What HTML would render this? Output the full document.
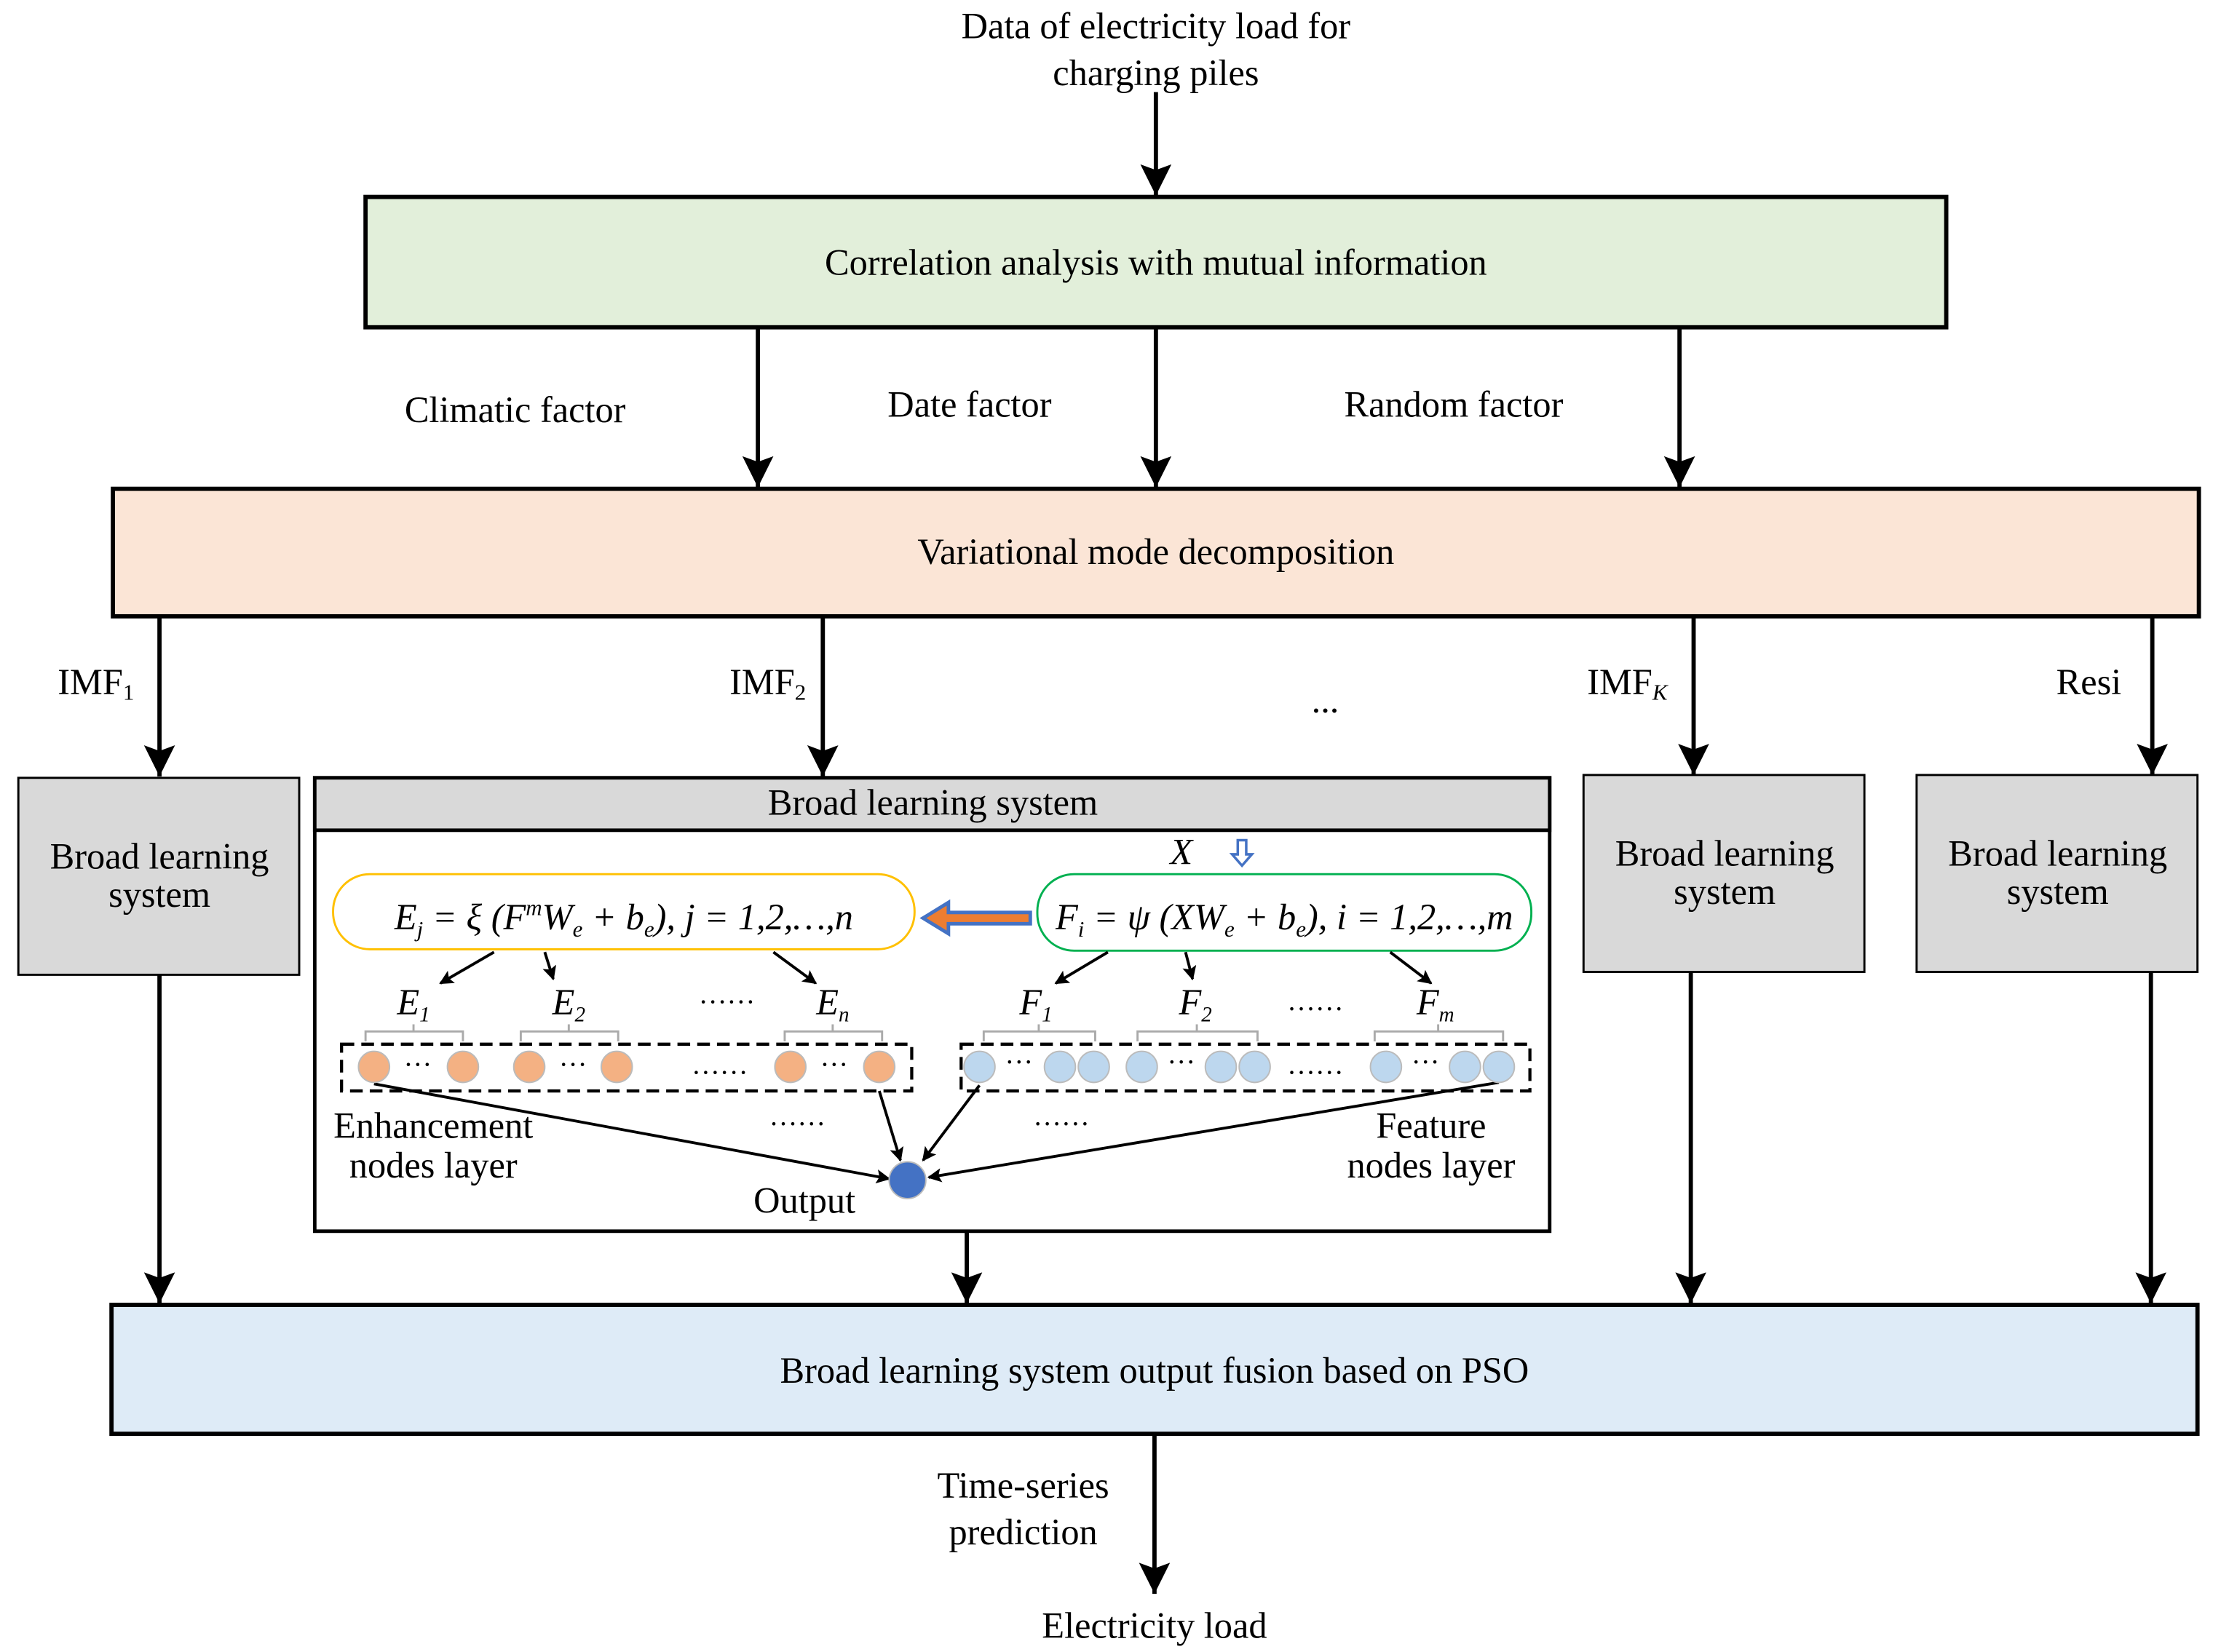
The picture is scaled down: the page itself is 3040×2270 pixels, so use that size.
<!DOCTYPE html>
<html><head><meta charset="utf-8"><style>
html,body{margin:0;padding:0;background:#fff;}
svg{display:block}
text{font-family:"Liberation Serif",serif;fill:#000}
</style></head><body>
<svg width="3040" height="2270" viewBox="0 0 1568 1166" preserveAspectRatio="none" xmlns="http://www.w3.org/2000/svg">
<defs>
<marker id="a" markerWidth="10" markerHeight="10" refX="9" refY="5" orient="auto" markerUnits="userSpaceOnUse">
<path d="M0,0 L10,5 L0,10 L2,5 Z" fill="#000"/></marker>
<marker id="b" markerWidth="24" markerHeight="22" refX="22" refY="11" orient="auto" markerUnits="userSpaceOnUse">
<path d="M0,0 L22,11 L0,22 L4,11 Z" fill="#000"/></marker>
</defs>
<g font-size="26" text-anchor="middle">
<text x="819" y="27">Data of electricity load for</text>
<text x="819" y="60">charging piles</text>
</g>
<g stroke="#000" stroke-width="3" marker-end="url(#b)">
<line x1="819" y1="65" x2="819" y2="138"/>
<line x1="537" y1="231" x2="537" y2="344"/>
<line x1="819" y1="231" x2="819" y2="344"/>
<line x1="1190" y1="231" x2="1190" y2="344"/>
<line x1="113" y1="435" x2="113" y2="548"/>
<line x1="583" y1="435" x2="583" y2="548"/>
<line x1="1200" y1="435" x2="1200" y2="547"/>
<line x1="1525" y1="435" x2="1525" y2="547"/>
<line x1="113" y1="688" x2="113" y2="920"/>
<line x1="685" y1="869" x2="685" y2="920"/>
<line x1="1198" y1="686" x2="1198" y2="920"/>
<line x1="1524" y1="686" x2="1524" y2="920"/>
<line x1="818" y1="1012" x2="818" y2="1125"/>
</g>
<rect x="259" y="139" width="1120" height="92" fill="#e2efda" stroke="#000" stroke-width="3"/>
<rect x="80" y="345" width="1478" height="90" fill="#fbe5d6" stroke="#000" stroke-width="3"/>
<rect x="13" y="549" width="199" height="139" fill="#d9d9d9" stroke="#000" stroke-width="1.5"/>
<rect x="1122" y="547" width="199" height="139" fill="#d9d9d9" stroke="#000" stroke-width="1.5"/>
<rect x="1358" y="547" width="199" height="139" fill="#d9d9d9" stroke="#000" stroke-width="1.5"/>
<rect x="223" y="549" width="875" height="320" fill="#fff" stroke="#000" stroke-width="2.5"/>
<rect x="223" y="549" width="875" height="37" fill="#d9d9d9" stroke="#000" stroke-width="2.5"/>
<rect x="79" y="921" width="1478" height="91" fill="#deebf7" stroke="#000" stroke-width="3"/>
<g font-size="26" text-anchor="middle">
<text x="819" y="194">Correlation analysis with  mutual information</text>
<text x="365" y="298">Climatic factor</text>
<text x="687" y="294">Date factor</text>
<text x="1030" y="294">Random factor</text>
<text x="819" y="398">Variational mode decomposition</text>
<text x="68" y="490">IMF<tspan font-size="16" dy="4">1</tspan></text>
<text x="544" y="490">IMF<tspan font-size="16" dy="4">2</tspan></text>
<text x="939" y="503">...</text>
<text x="1153" y="490">IMF<tspan font-size="16" dy="4" font-style="italic">K</tspan></text>
<text x="1480" y="490">Resi</text>
<text x="113" y="613">Broad learning</text>
<text x="113" y="640">system</text>
<text x="1222" y="611">Broad learning</text>
<text x="1222" y="638">system</text>
<text x="1458" y="611">Broad learning</text>
<text x="1458" y="638">system</text>
<text x="661" y="575">Broad learning system</text>
<text x="818" y="976">Broad learning system output fusion based on PSO</text>
<text x="725" y="1057">Time-series</text>
<text x="725" y="1090">prediction</text>
<text x="818" y="1156">Electricity load</text>
<text x="307" y="803">Enhancement</text>
<text x="307" y="831">nodes layer</text>
<text x="1014" y="803">Feature</text>
<text x="1014" y="831">nodes layer</text>
<text x="570" y="856">Output</text>
</g>
<rect x="236" y="617" width="412" height="53" rx="26" fill="#fff" stroke="#ffc000" stroke-width="1.5"/>
<rect x="735" y="617" width="350" height="54" rx="26" fill="#fff" stroke="#00b050" stroke-width="1.5"/>
<g font-size="26" font-style="italic" text-anchor="middle">
<text x="442" y="656">E<tspan font-size="16" dy="5">j</tspan><tspan dy="-5"> = ξ (F</tspan><tspan font-size="16" dy="-10">m</tspan><tspan dy="10">W</tspan><tspan font-size="16" dy="5">e</tspan><tspan dy="-5"> + b</tspan><tspan font-size="16" dy="5">e</tspan><tspan dy="-5">), j = 1,2,…,n</tspan></text>
<text x="910" y="656">F<tspan font-size="16" dy="5">i</tspan><tspan dy="-5"> = ψ (XW</tspan><tspan font-size="16" dy="5">e</tspan><tspan dy="-5"> + b</tspan><tspan font-size="16" dy="5">e</tspan><tspan dy="-5">), i = 1,2,…,m</tspan></text>
<text x="837" y="610">X</text>
<text x="293" y="716">E<tspan font-size="15" dy="5">1</tspan></text>
<text x="403" y="716">E<tspan font-size="15" dy="5">2</tspan></text>
<text x="590" y="716">E<tspan font-size="15" dy="5">n</tspan></text>
<text x="734" y="716">F<tspan font-size="15" dy="5">1</tspan></text>
<text x="847" y="716">F<tspan font-size="15" dy="5">2</tspan></text>
<text x="1017" y="716">F<tspan font-size="15" dy="5">m</tspan></text>
</g>
<g font-size="20" text-anchor="middle">
<text x="515" y="708">……</text><text x="932" y="713">……</text>
<text x="565" y="794">……</text><text x="752" y="794">……</text>
<text x="510" y="758">……</text><text x="932" y="758">……</text>
<text x="296" y="758">···</text><text x="406" y="758">···</text><text x="591" y="758">···</text>
<text x="722" y="756">···</text><text x="837" y="756">···</text><text x="1010" y="756">···</text>
</g>
<path d="M730,644 L672,644 L672,637 L654,648 L672,659 L672,652 L730,652 Z" fill="#ed7d31" stroke="#4472c4" stroke-width="2.5"/>
<path d="M877,593 L883,593 L883,603 L887,603 L880,611 L873,603 L877,603 Z" fill="#fff" stroke="#4472c4" stroke-width="1.8"/>
<g stroke="#000" stroke-width="2" marker-end="url(#a)">
<line x1="350" y1="672" x2="312" y2="694"/>
<line x1="386" y1="672" x2="392" y2="691"/>
<line x1="548" y1="672" x2="578" y2="694"/>
<line x1="785" y1="672" x2="748" y2="694"/>
<line x1="840" y1="672" x2="845" y2="691"/>
<line x1="985" y1="672" x2="1014" y2="694"/>
<line x1="265" y1="765" x2="630" y2="832"/>
<line x1="623" y1="770" x2="638" y2="819"/>
<line x1="694" y1="766" x2="654" y2="819"/>
<line x1="1062" y1="764" x2="658" y2="831"/>
</g>
<g fill="none" stroke="#aaa" stroke-width="1.5">
<path d="M259,735 v-7 h69 v7 M293,728 v-5"/>
<path d="M369,735 v-7 h69 v7 M403,728 v-5"/>
<path d="M556,735 v-7 h69 v7 M590,728 v-5"/>
<path d="M697,735 v-7 h79 v7 M736,728 v-5"/>
<path d="M806,735 v-7 h85 v7 M848,728 v-5"/>
<path d="M974,735 v-7 h91 v7 M1019,728 v-5"/>
</g>
<rect x="242" y="737" width="404" height="33" fill="none" stroke="#000" stroke-width="2.2" stroke-dasharray="9,5"/>
<rect x="681" y="737" width="403" height="33" fill="none" stroke="#000" stroke-width="2.2" stroke-dasharray="9,5"/>
<g fill="#f4b183" stroke="#bbb" stroke-width="1">
<circle cx="265" cy="753" r="11"/><circle cx="328" cy="753" r="11"/><circle cx="375" cy="753" r="11"/>
<circle cx="437" cy="753" r="11"/><circle cx="560" cy="753" r="11"/><circle cx="623" cy="753" r="11"/>
</g>
<g fill="#bdd7ee" stroke="#bbb" stroke-width="1">
<circle cx="694" cy="753" r="11"/><circle cx="751" cy="753" r="11"/><circle cx="775" cy="753" r="11"/>
<circle cx="809" cy="753" r="11"/><circle cx="865" cy="753" r="11"/><circle cx="889" cy="753" r="11"/>
<circle cx="982" cy="753" r="11"/><circle cx="1038" cy="753" r="11"/><circle cx="1062" cy="753" r="11"/>
</g>
<circle cx="643" cy="833" r="13" fill="#4472c4" stroke="#bbb" stroke-width="1"/>
</svg>
</body></html>
